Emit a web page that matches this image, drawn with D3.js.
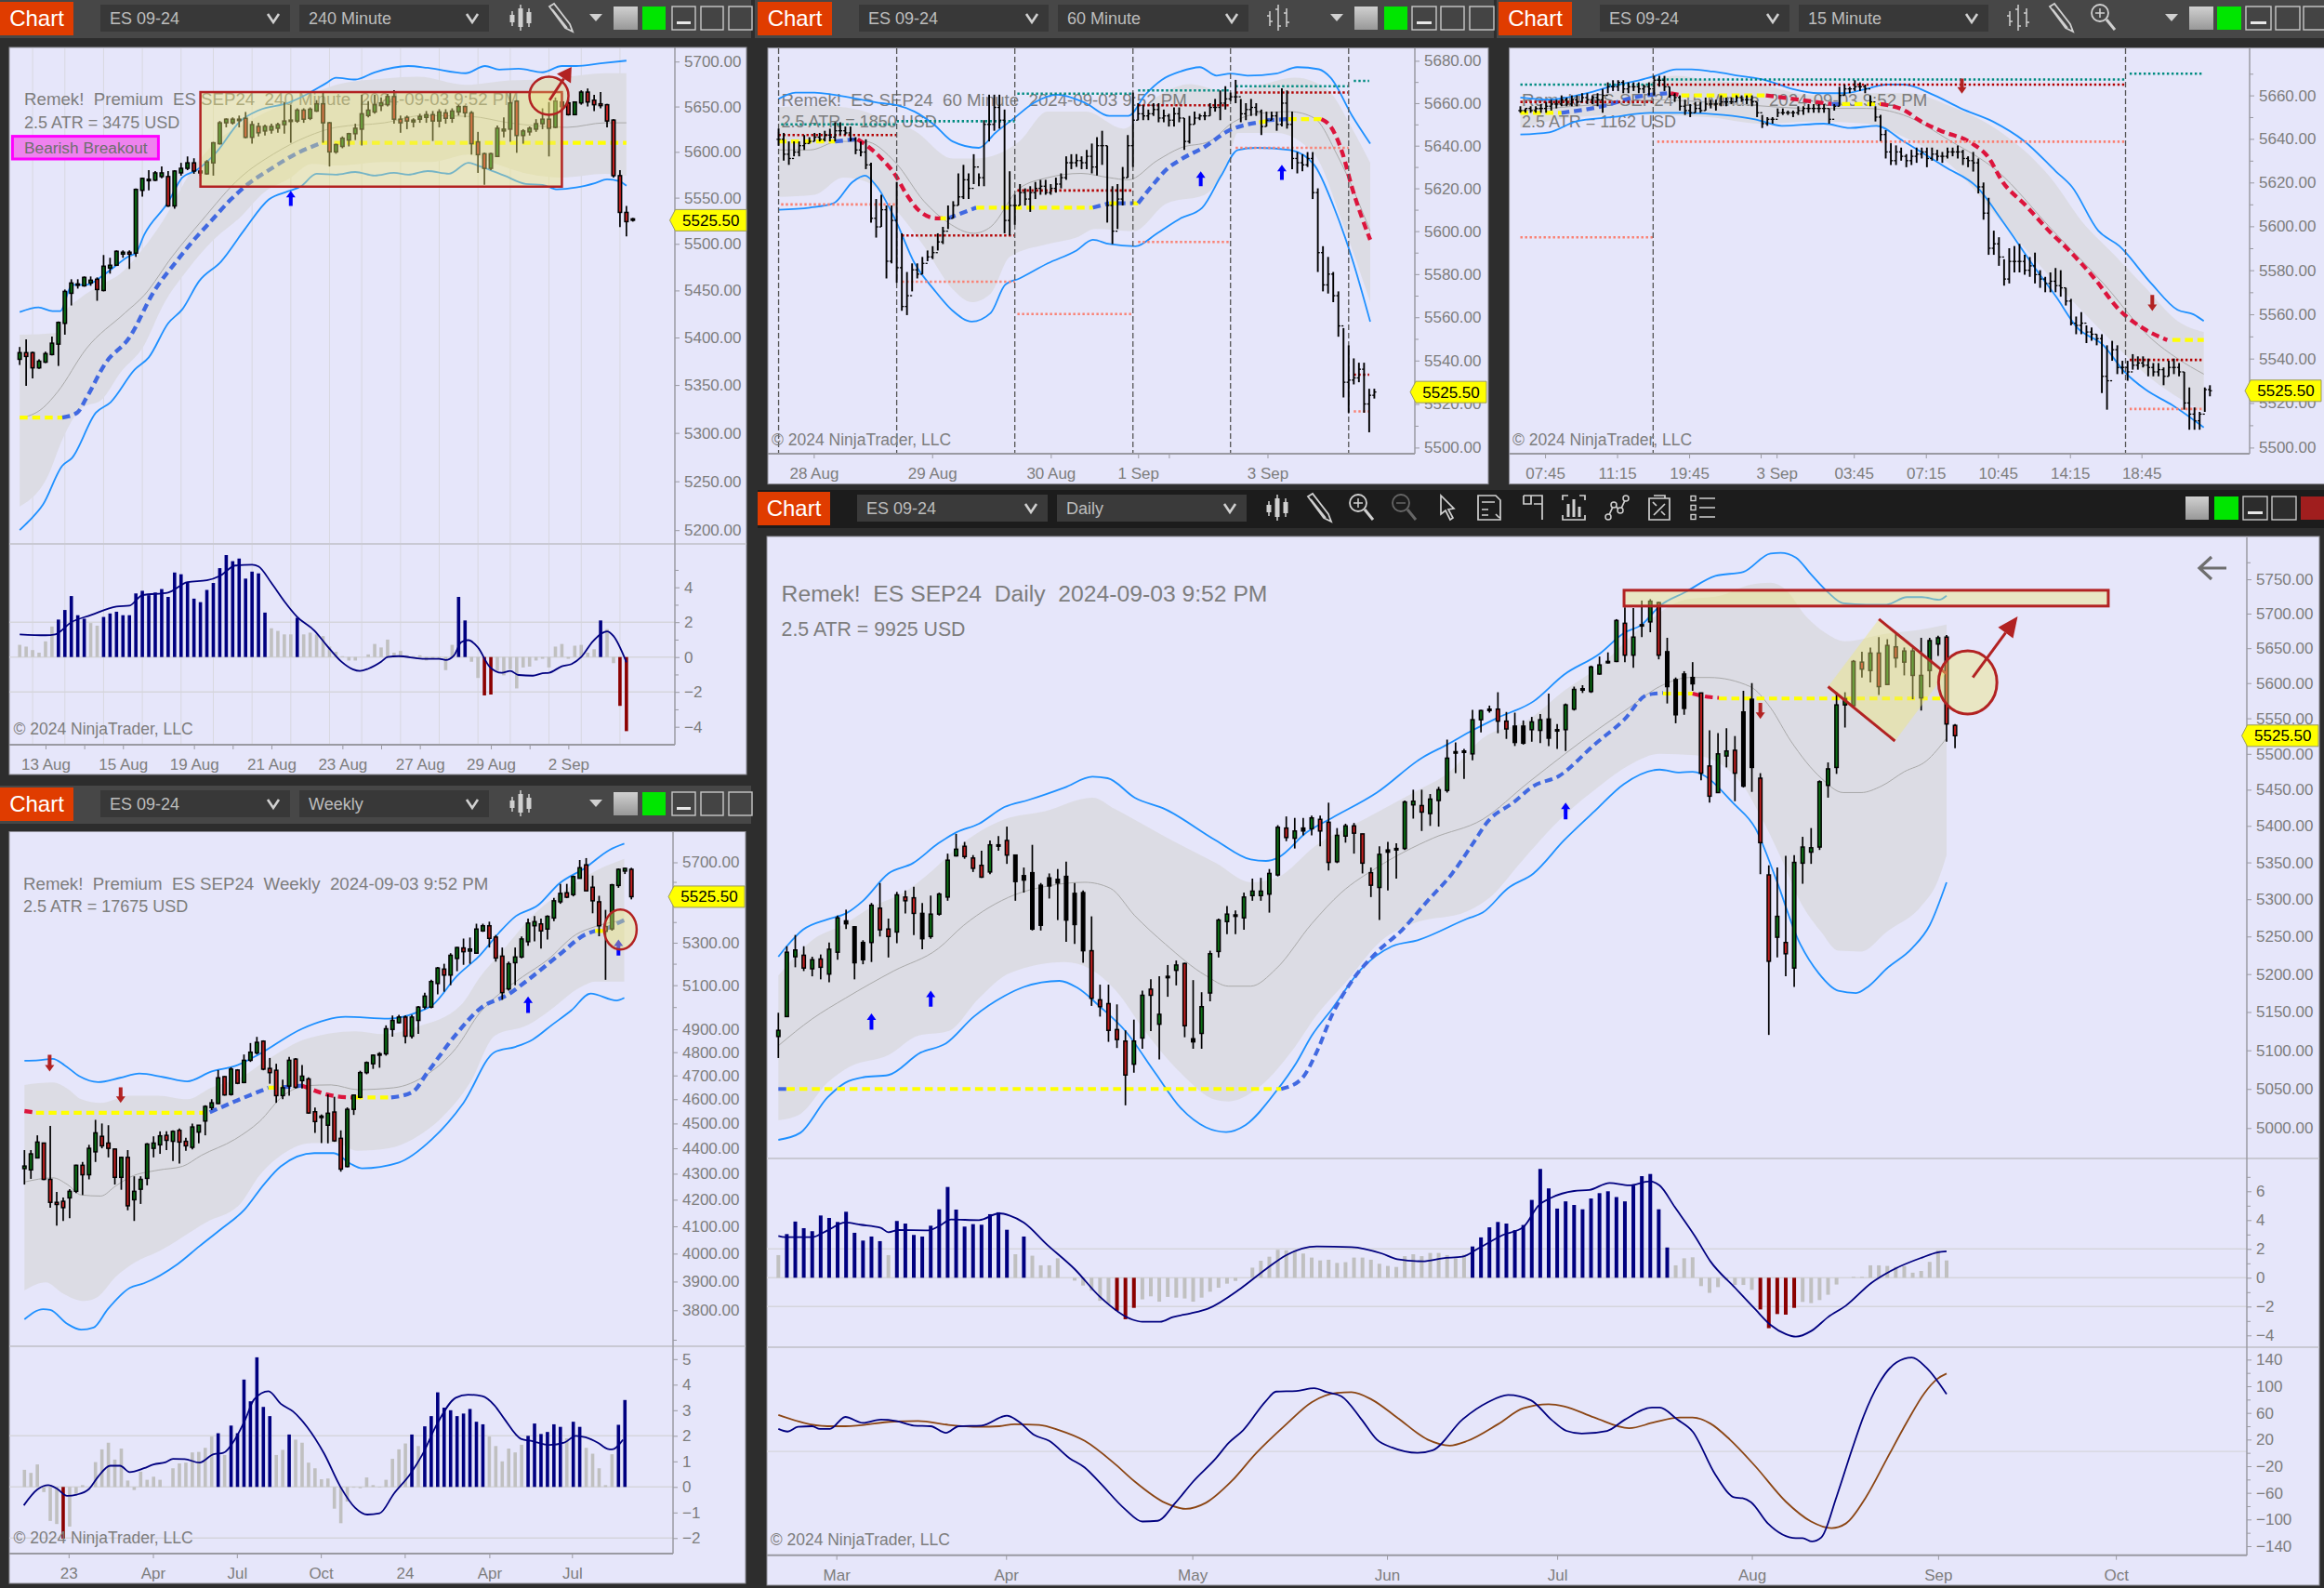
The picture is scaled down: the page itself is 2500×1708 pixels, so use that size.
<!DOCTYPE html>
<html><head><meta charset="utf-8"><title>Remek ES SEP24</title>
<script src="https://cdn.jsdelivr.net/npm/d3@7"></script>
<style>html,body{margin:0;padding:0;background:#2d2d2d;overflow:hidden}svg{display:block}text{font-family:"Liberation Sans",Arial,sans-serif;white-space:pre}</style>
</head><body><svg id="c" width="2500" height="1708"></svg>
<script>
// ---------- 240 minute panel ----------
const p1Candles=[[5377,5390,5371,5384],[5384,5398,5349,5380],[5384,5385,5357,5368],[5368,5377,5367,5375],[5374,5385,5373,5383],[5382,5401,5381,5394],[5393,5417,5370,5416],[5415,5451,5403,5449],[5447,5462,5434,5458],[5457,5462,5452,5456],[5455,5465,5454,5464],[5458,5465,5455,5461],[5462,5464,5439,5451],[5450,5488,5449,5476],[5474,5485,5468,5477],[5477,5493,5477,5492],[5489,5493,5485,5491],[5491,5493,5473,5489],[5490,5560,5486,5559],[5558,5572,5551,5571],[5569,5580,5558,5570],[5569,5579,5568,5577],[5573,5584,5571,5577],[5573,5579,5540,5541],[5541,5580,5538,5579],[5577,5588,5574,5582],[5582,5595,5580,5588],[5588,5593,5576,5579],[5579,5580,5574,5577],[5576,5591,5575,5589],[5588,5611,5574,5610],[5609,5634,5608,5632],[5632,5637,5627,5636],[5632,5638,5630,5636],[5636,5640,5627,5636],[5637,5644,5615,5616],[5616,5634,5609,5630],[5628,5632,5617,5621],[5623,5630,5618,5628],[5624,5631,5620,5628],[5626,5632,5621,5630],[5630,5655,5620,5634],[5635,5652,5610,5634],[5634,5648,5632,5646],[5646,5648,5632,5636],[5637,5649,5635,5647],[5645,5657,5644,5653],[5653,5665,5610,5632],[5632,5633,5584,5600],[5600,5609,5598,5608],[5606,5617,5604,5615],[5613,5621,5606,5620],[5620,5631,5613,5626],[5625,5663,5607,5642],[5640,5656,5638,5646],[5644,5663,5642,5652],[5651,5660,5645,5654],[5652,5664,5650,5661],[5661,5668,5631,5636],[5636,5640,5621,5632],[5638,5640,5625,5634],[5633,5637,5627,5635],[5636,5642,5632,5639],[5638,5645,5632,5641],[5641,5645,5612,5634],[5634,5647,5627,5644],[5643,5647,5631,5637],[5637,5648,5632,5645],[5644,5652,5640,5650],[5650,5651,5638,5643],[5643,5645,5597,5609],[5611,5622,5577,5597],[5598,5599,5564,5582],[5582,5599,5580,5598],[5595,5629,5595,5626],[5623,5638,5616,5625],[5625,5665,5611,5654],[5656,5657,5599,5618],[5618,5625,5609,5623],[5622,5628,5618,5626],[5625,5636,5622,5631],[5631,5648,5625,5636],[5636,5655,5595,5626],[5627,5660,5626,5656],[5650,5665,5645,5655],[5654,5658,5640,5641],[5641,5655,5641,5655],[5654,5668,5652,5666],[5666,5670,5650,5655],[5657,5663,5645,5652],[5653,5666,5648,5651],[5652,5653,5627,5634],[5635,5636,5572,5574],[5574,5580,5518,5534],[5534,5541,5508,5524],[5527,5528,5524,5525.5]];
const p1Upper=[[0,5427],[2.9,5432],[5.1,5428],[6.3,5428],[8.1,5456],[10.3,5456],[12.9,5466],[14.8,5476],[17,5487],[18,5490],[19.3,5510],[23,5545],[25.2,5572],[27.4,5580],[30.4,5599],[34.2,5634],[37.1,5646],[41.6,5654],[44.6,5664],[47.5,5676],[49,5682],[52,5680],[55,5688],[60.2,5695],[63.2,5693],[69.1,5687],[72.1,5695],[74.3,5691],[77.3,5692],[81,5688],[84,5695],[86.2,5695],[90,5698],[94,5701]];
const p1Lower=[[0,5200],[1.4,5209],[3.6,5226],[6.6,5266],[8.1,5274],[11.8,5321],[14.1,5332],[17.8,5366],[20,5379],[23,5415],[25.2,5430],[27.8,5460],[31.2,5481],[34.9,5516],[38.6,5548],[41.6,5557],[43.5,5562],[46,5576],[49,5575],[52,5578],[55,5574],[58,5577],[60.2,5575],[63.2,5579],[66.5,5576],[69.5,5588],[71.4,5584],[75.1,5574],[78.4,5565],[81,5564],[83.3,5559],[86.2,5561],[89.2,5566],[91,5570],[92.9,5568],[94,5563]];
const p1GrayUp=[[0,5403],[5.9,5405],[7,5426],[9.2,5441],[12.6,5456],[15.6,5468],[18.2,5487],[22.2,5525],[26.7,5580],[30.4,5611],[35.6,5634],[40.1,5650],[44.6,5662],[49,5674],[56.5,5681],[61.7,5683],[69.1,5674],[75.8,5679],[81,5680],[84.8,5683],[90.7,5687],[94,5687]];
const p1GrayLo=[[0,5224],[4.4,5256],[6.6,5293],[9.6,5326],[12.6,5334],[15.6,5363],[19.3,5392],[22.2,5434],[26,5472],[29.7,5502],[34.2,5529],[37.9,5556],[41.6,5570],[45.3,5587],[49,5585],[56.5,5589],[63.9,5589],[69.5,5597],[72.1,5591],[78.8,5576],[84,5572],[90.7,5576],[94,5574]];
const p1Sma=[[0,5315],[3.6,5326],[5.9,5343],[10.3,5388],[16.3,5426],[19.3,5445],[23.7,5487],[28.2,5525],[34.2,5572],[39.4,5598],[44.6,5617],[49,5627],[56.5,5632],[62.4,5640],[69.9,5639],[75.8,5632],[84.8,5627],[90.7,5632],[94,5632]];
const p1Stops=[["y",[[0,5316],[6.6,5316]]],["b",[[6.6,5316],[8.9,5321],[10.3,5336],[13.3,5373],[17,5400],[20.8,5449],[24.5,5483],[26.7,5502],[29.7,5525],[32.7,5548],[35.6,5566],[38.6,5580],[43.1,5599],[46.8,5610]]],["y",[[46.8,5610],[94,5610]]]];
const p1Hist=[.7,.6,.4,.25,.9,1.75,2.15,2.7,3.5,2.4,2.2,1.95,1.8,2.3,2.5,2.6,2.4,2.4,3.65,3.8,3.55,3.7,3.9,3.45,4.85,4.75,4.3,3.35,3.15,3.85,4.25,5.1,5.85,5.5,5.65,4.5,4.9,4.8,2.55,1.65,1.5,1.3,1.3,2.25,1.3,1.4,1.3,1.2,.6,.3,.05,-.2,-.2,0,.15,.75,.55,1,.25,.35,.1,.05,.1,-.2,-.1,-.1,-.75,.7,3.45,2.1,-.27,-1.2,-2.2,-2.15,-.8,-1.05,-.7,-1.8,-.6,-.55,-.2,-.1,-.6,.6,.75,-.1,.65,.7,.25,.45,2.1,1.6,-.35,-2.8,-4.25];
const p1Signal=[[0,1.3],[4,1.25],[5.5,1.3],[8,2],[11,2.4],[15,2.9],[17,2.95],[19,3.55],[23,3.7],[26,4.3],[29,4.4],[31,4.65],[33.4,5.25],[36,5.3],[37,5.2],[39,4.25],[41,3.2],[43,2.3],[45.7,1.5],[47.5,.7],[49.8,-.25],[51.6,-.7],[52.7,-.8],[54,-.67],[56,-.27],[57,0],[58.7,.05],[62.4,-.1],[65,-.1],[66,-.17],[67.3,.1],[68.4,.85],[69.5,.97],[71,.55],[72.8,-.55],[74.7,-.9],[76,-.8],[77.3,-1.03],[79.5,-1.07],[81,-.93],[82,-.9],[84,-.53],[85.5,-.4],[87,0],[88.8,.9],[91,1.47],[92,1.2],[94,-.3]];
const p1PriceTicks=[5700,5650,5600,5550,5500,5450,5400,5350,5300,5250,5200];
const p1IndTicks=[4,2,0,-2,-4];
const p1IndMinor=[5,3,1,-1,-3];
const p1TimeIdx=[4,10,16,27,33,39,50,56,62,73,79,85];
const p1TimeLabels=["13 Aug","","15 Aug","19 Aug","","21 Aug","23 Aug","","27 Aug","29 Aug","","2 Sep"];
const p1GridIdx=[2,7,13,19,25,30,36,42,48,53,59,65,71,76,82,87,93];

// ---------- 60 minute panel ----------
const p2Highs=[5648,5646,5642,5642,5642,5645,5644,5646,5646,5647,5648,5651,5651,5649,5649,5644,5642,5643,5632,5615,5617,5612,5612,5623,5599,5581,5585,5585,5588,5591,5593,5599,5602,5612,5614,5627,5631,5627,5636,5627,5652,5664,5664,5664,5657,5628,5617,5622,5620,5621,5623,5624,5624,5622,5625,5627,5635,5636,5636,5635,5638,5641,5644,5647,5640,5621,5622,5630,5645,5665,5660,5659,5657,5660,5660,5657,5655,5658,5658,5653,5654,5656,5655,5656,5660,5662,5666,5668,5665,5671,5662,5660,5662,5660,5657,5656,5656,5656,5667,5666,5656,5637,5636,5637,5637,5620,5593,5588,5581,5572,5555,5547,5541,5539,5539,5527,5527];
const p2Lows=[5640,5633,5631,5635,5635,5638,5641,5642,5642,5642,5642,5642,5645,5645,5642,5636,5635,5629,5604,5597,5602,5578,5585,5576,5563,5561,5572,5578,5580,5586,5587,5591,5594,5601,5606,5612,5615,5615,5622,5621,5621,5642,5647,5648,5599,5598,5603,5612,5612,5609,5615,5617,5617,5617,5618,5620,5624,5629,5630,5629,5629,5627,5626,5631,5604,5594,5601,5612,5625,5630,5652,5652,5652,5654,5651,5651,5649,5649,5651,5638,5641,5650,5652,5652,5654,5656,5652,5657,5661,5660,5651,5652,5654,5654,5645,5649,5652,5647,5649,5648,5629,5627,5628,5630,5615,5581,5572,5571,5567,5551,5523,5516,5529,5530,5516,5507,5522.5];
const p2Closes=[5643,5636,5634,5637,5640,5641,5642,5644,5643,5645,5644,5647,5647,5646,5643,5638,5637,5631,5606,5602,5610,5586,5605,5583,5565,5570,5582,5580,5585,5588,5590,5595,5600,5606,5612,5616,5624,5620,5630,5625,5650,5650,5658,5652,5605,5612,5612,5618,5615,5618,5620,5621,5618,5620,5622,5625,5632,5632,5633,5632,5635,5630,5640,5640,5612,5600,5615,5625,5640,5652,5655,5654,5655,5657,5653,5654,5652,5655,5653,5642,5650,5653,5654,5654,5658,5658,5660,5662,5663,5663,5655,5657,5658,5656,5649,5652,5654,5650,5660,5650,5634,5632,5631,5634,5618,5590,5575,5580,5570,5556,5530,5531,5532,5536,5520,5524,5525.5];
const p2Upper=[[0,5662],[3.3,5665],[7,5665],[10.7,5664],[15.4,5662],[20,5660],[23,5659],[26.5,5656],[30.2,5650],[33.9,5642],[39,5639],[42.2,5646],[45.9,5653],[49.6,5660],[54.3,5664],[59.8,5660],[64.4,5654],[68.1,5654],[71.4,5664],[74.6,5671],[78.3,5675],[82,5677],[85.3,5673],[88,5674],[91.3,5673],[96.9,5674],[101,5677],[105.2,5676],[107.5,5672],[111.7,5654],[115.2,5641]];
const p2Lower=[[0,5610],[6.1,5611],[10.7,5613],[14.4,5623],[16.8,5626],[19.1,5621],[22.8,5605],[26.5,5585],[30.2,5573],[33.9,5563],[37.6,5558],[41.3,5562],[44.1,5575],[46.9,5578],[52.4,5585],[58,5591],[61.2,5596],[64.4,5594],[69.5,5593],[73.7,5599],[78.3,5606],[82.5,5611],[86.2,5626],[89.4,5638],[93.1,5639],[99.6,5638],[104.3,5631],[108,5612],[111.7,5587],[115.2,5558]];
const p2GrayUp=[[0,5658],[7,5659],[15.4,5657],[20,5653],[26.5,5647],[33.9,5634],[38.5,5634],[46.9,5642],[52.4,5656],[59.8,5656],[67.2,5648],[73.7,5663],[80.2,5669],[87.6,5665],[93.1,5668],[100.6,5672],[107,5666],[111.7,5648],[115.2,5632]];
const p2GrayLo=[[0,5616],[7,5617],[12.6,5625],[17.2,5623],[22.8,5610],[28.3,5593],[33.9,5573],[37.6,5567],[41.3,5571],[45,5588],[52.4,5594],[58,5597],[61.7,5601],[69.1,5600],[75.6,5613],[83,5617],[87.6,5634],[89.4,5646],[96.9,5646],[104.3,5636],[109.8,5604],[115.2,5567]];
const p2Sma=[[0,5638],[6.1,5638],[11.7,5642],[16.8,5642],[22.8,5632],[28.3,5614],[33,5604],[38,5599],[41.3,5602],[46.9,5620],[52.4,5625],[58.9,5627],[64.4,5625],[68.1,5624],[73.7,5633],[78.3,5639],[83.9,5642],[88.5,5651],[93.1,5655],[99.6,5656],[104.3,5653],[108.9,5635],[115.2,5600]];
const p2Stops=[["y",[[0,5642],[11,5642]]],["b",[[11,5642],[15,5643]]],["r",[[15.4,5643],[17.2,5640],[20,5634],[22.8,5626],[24.7,5618],[27.4,5609.5],[30.7,5606],[32,5606]]],["y",[[31.5,5606],[32.6,5606]]],["b",[[33,5606],[38.5,5611]]],["y",[[38.5,5611],[61.2,5611]]],["b",[[61.2,5611],[64.4,5613]]],["y",[[64.4,5613],[66,5613]]],["b",[[66,5613],[69,5613]]],["y",[[69,5613],[70,5613]]],["b",[[70,5613],[73,5622],[75.6,5629],[78.3,5633.5],[83,5639.5],[87.6,5647],[93.6,5651]]],["y",[[93.6,5651],[95,5651.5]]],["b",[[95,5652],[99,5652.5]]],["y",[[99.3,5652.5],[105.7,5652.5]]],["r",[[105.7,5652.5],[107.5,5649],[109.8,5636.5],[111.7,5620],[115.2,5596]]]];
const p2Teal=[[.5,23,5650],[23,46,5651.5],[46.5,69,5664.5],[70,88,5666],[89,111,5668],[112,115,5670.5]];
const p2DarkRed=[[0,23,5645],[24,46,5598],[46.5,69,5619],[70,88,5659],[89,111,5665],[112,115,5533.5]];
const p2Salmon=[[.5,23,5612.5],[24,46,5576.5],[46.5,69,5561.5],[70,88,5595],[89,111,5639],[112,115,5516.6]];
const p2Sessions=[0,23,46,69,88,111];
const p2PriceTicks=[5680,5660,5640,5620,5600,5580,5560,5540,5520,5500];
const p2TimeIdx=[6.85,29.9,53,70,76,95.2];
const p2TimeLabels=["28 Aug","29 Aug","30 Aug","1 Sep","","3 Sep"];

// ---------- 15 minute panel ----------
const p3Highs=[5655,5654,5655,5655,5656,5657,5658,5658,5660,5659,5660,5660,5661,5661,5660,5661,5663,5666,5667,5667,5667,5666,5666,5666,5665,5666,5669,5669,5669,5664,5661,5660,5658,5656,5657,5657,5659,5658,5658,5660,5659,5659,5660,5660,5660,5660,5657,5651,5650,5650,5654,5654,5653,5653,5655,5655,5656,5656,5656,5656,5654,5656,5664,5665,5664,5667,5666,5665,5660,5655,5651,5644,5638,5637,5636,5633,5635,5636,5636,5636,5636,5635,5634,5636,5636,5637,5635,5632,5634,5631,5620,5613,5598,5595,5585,5590,5591,5592,5587,5586,5588,5580,5577,5579,5581,5580,5572,5567,5559,5561,5555,5554,5551,5551,5546,5548,5546,5539,5539,5542,5541,5541,5540,5538,5538,5536,5539,5540,5538,5534,5527,5518,5516,5527,5528];
const p3Lows=[5652,5652,5652,5652,5652,5652,5653,5654,5655,5655,5655,5655,5657,5656,5656,5655,5652,5661,5662,5662,5661,5661,5662,5661,5661,5660,5660,5664,5662,5659,5657,5653,5651,5650,5652,5652,5653,5654,5653,5655,5655,5656,5657,5657,5656,5655,5650,5645,5646,5647,5650,5651,5651,5650,5651,5651,5652,5652,5652,5652,5647,5653,5655,5660,5661,5662,5662,5661,5655,5648,5639,5631,5628,5628,5630,5627,5628,5629,5631,5627,5630,5630,5629,5631,5632,5631,5628,5627,5625,5615,5603,5587,5587,5582,5573,5574,5579,5579,5578,5577,5574,5572,5570,5570,5570,5568,5564,5555,5551,5551,5547,5548,5546,5524.5,5517,5539,5533,5533,5530,5535,5535,5536,5532,5532,5532,5528,5532,5533,5532,5517,5508,5508,5508,5516,5523];
const p3Closes=[5653,5654,5653,5654,5654,5655,5656,5656,5658,5656,5658,5657,5659,5658,5659,5658,5660,5664,5664,5666,5663,5664,5664,5663,5664,5663,5667,5667,5664,5660,5659,5655,5653,5652,5654,5653,5656,5656,5656,5657,5657,5657,5659,5658,5658,5657,5652,5647,5649,5649,5652,5652,5652,5652,5653,5654,5654,5654,5654,5654,5649,5655,5660,5663,5663,5664,5664,5663,5657,5650,5642,5634,5630,5634,5632,5630,5632,5633,5634,5631,5633,5632,5632,5634,5634,5634,5631,5630,5629,5618,5606,5590,5592,5586,5576,5584,5584,5584,5580,5582,5578,5576,5574,5575,5573,5572,5566,5556,5555,5556,5552,5551,5549,5532,5530,5544,5536,5536,5534,5537,5538,5537,5536,5534,5535,5532,5536,5536,5534,5520,5515,5512,5515,5526,5525.5];
const p3Upper=[[0,5659],[5.6,5658],[12.8,5661],[19,5665],[23.1,5667],[26.2,5669],[30.3,5672],[33.3,5672],[37.4,5671],[42.6,5669],[47.7,5667],[52.8,5663],[57.9,5661],[63.1,5661],[67.2,5663],[71.3,5665],[74.4,5665],[80.5,5660],[85.6,5654],[91.8,5648],[97.9,5639],[104.1,5625],[107.2,5618],[112.3,5598],[116.4,5591],[122.6,5574],[127.7,5562],[130.8,5560],[132.8,5557]];
const p3Lower=[[0,5642],[5.6,5643],[10.8,5648],[17.9,5650],[25.1,5652],[31.3,5652],[39.5,5651],[45.6,5649],[50.8,5646],[59,5647],[64.1,5645],[69.2,5646],[74.4,5639],[82.6,5627],[88.7,5618],[93.8,5602],[100,5581],[104.1,5568],[108.2,5554],[113.3,5546],[117.4,5534],[121.5,5526],[126.7,5519],[132.8,5509]];
const p3GrayUp=[[0,5656],[10.8,5658],[19,5662],[30.3,5669],[36.4,5667],[46.7,5665],[56.9,5660],[67.2,5661],[75.4,5661],[83.6,5655],[92.8,5644],[103.1,5622],[109.2,5602],[115.4,5587],[121.5,5572],[127.7,5557],[132.8,5552]];
const p3GrayLo=[[0,5645],[10.8,5650],[22,5651],[36.4,5650],[46.7,5647],[56.9,5648],[67.2,5647],[74.4,5641],[83.6,5628],[92.8,5604],[104.1,5574],[114.4,5549],[121.5,5533],[132.8,5516]];
const p3Sma=[[0,5653],[15.9,5656],[26.2,5658],[41.5,5656],[56.9,5654],[67.2,5654],[74.4,5651],[83.6,5639],[92.8,5625],[103.1,5599],[113.3,5574],[122.6,5549],[127.7,5540],[132.8,5533]];
const p3Stops=[["y",[[0,5652],[8,5652]]],["b",[[8,5652],[16,5655],[22,5659],[28.5,5661]]],["r",[[29.2,5661],[31.3,5660]]],["y",[[31.3,5660],[47.7,5660]]],["r",[[47.7,5660],[60.5,5656]]],["b",[[60.5,5656],[62.5,5656]]],["y",[[62.5,5656],[70,5656]]],["r",[[70,5656],[75.1,5652.5],[77.2,5649],[81.4,5644],[87.7,5638],[90.8,5632],[93.8,5620],[98,5610],[103.1,5597],[106.2,5590],[111.3,5577],[116.4,5562],[121.5,5553],[125.7,5548.4]]],["y",[[126.7,5548.4],[132.8,5548.4]]]];
const p3Teal=[[0,25.8,5665],[26.6,117.6,5667.3],[118.4,132.8,5670]];
const p3DarkRed=[[0,25.8,5657],[26.6,117.6,5665],[118.4,132.8,5539.4]];
const p3Salmon=[[0,25.8,5595],[26.6,117.6,5638.7],[118.4,132.8,5517.3]];
const p3Sessions=[25.8,117.6];
const p3PriceTicks=[5660,5640,5620,5600,5580,5560,5540,5520,5500];
const p3TimeIdx=[4.8,18.8,32.8,46.7,49.8,64.8,78.8,92.8,106.8,120.7];
const p3TimeLabels=["07:45","11:15","19:45","","3 Sep","03:45","07:15","10:45","14:15","18:45"];

// ---------- weekly panel ----------
const p4Candles=[[4320,4393,4258,4330],[4315,4393,4280,4378],[4362,4452,4360,4425],[4421,4421,4275,4278],[4278,4490,4170,4190],[4190,4230,4103,4182],[4194,4208,4120,4170],[4207,4240,4130,4232],[4232,4335,4225,4333],[4333,4346,4218,4296],[4296,4414,4278,4400],[4386,4515,4346,4462],[4448,4500,4400,4410],[4421,4493,4364,4400],[4397,4400,4258,4286],[4286,4367,4238,4364],[4364,4393,4160,4177],[4200,4290,4120,4232],[4240,4290,4184,4278],[4282,4421,4255,4417],[4400,4448,4364,4421],[4414,4468,4378,4450],[4452,4468,4393,4432],[4428,4472,4350,4468],[4472,4480,4340,4425],[4428,4442,4390,4410],[4404,4500,4396,4486],[4465,4493,4420,4493],[4510,4575,4452,4570],[4565,4600,4555,4585],[4582,4723,4580,4690],[4695,4697,4615,4618],[4620,4735,4615,4727],[4723,4727,4663,4667],[4670,4790,4667,4765],[4765,4840,4758,4800],[4797,4867,4790,4843],[4848,4852,4722,4727],[4730,4775,4665,4712],[4722,4750,4585,4615],[4615,4682,4600,4648],[4655,4780,4615,4765],[4770,4775,4645,4650],[4678,4745,4645,4697],[4685,4692,4540,4543],[4548,4565,4462,4508],[4530,4537,4421,4525],[4493,4620,4420,4542],[4547,4610,4426,4430],[4440,4472,4308,4318],[4328,4566,4325,4558],[4558,4618,4535,4617],[4608,4720,4604,4712],[4712,4760,4705,4755],[4750,4790,4728,4787],[4792,4800,4733,4793],[4793,4918,4785,4903],[4900,4962,4868,4940],[4930,4965,4926,4955],[4955,4962,4838,4870],[4870,4965,4860,4955],[4940,5005,4880,5000],[5000,5065,4990,5050],[5000,5125,4995,5117],[5108,5185,5058,5180],[5175,5200,5070,5147],[5147,5250,5100,5240],[5225,5280,5165,5277],[5275,5320,5195,5257],[5260,5325,5200,5270],[5250,5392,5250,5366],[5357,5392,5352,5382],[5382,5402,5277,5321],[5327,5337,5210,5227],[5236,5277,5033,5066],[5083,5210,5075,5200],[5205,5277,5100,5232],[5232,5330,5226,5318],[5305,5417,5285,5395],[5382,5430,5306,5402],[5391,5417,5272,5357],[5366,5433,5315,5428],[5420,5520,5405,5505],[5500,5590,5490,5542],[5545,5590,5518,5523],[5536,5632,5527,5627],[5618,5712,5618,5672],[5687,5722,5555,5555],[5573,5632,5443,5505],[5500,5530,5331,5382],[5378,5460,5125,5355],[5367,5590,5358,5585],[5582,5669,5570,5664],[5655,5672,5640,5669],[5664,5672,5512,5525.5]];
const p4Upper=[[0,4763],[2.2,4765],[4.4,4771],[6.2,4744],[8.5,4697],[11.4,4672],[14.8,4690],[17.8,4708],[21.5,4693],[25.2,4675],[28.9,4716],[33,4744],[36.4,4792],[43,4903],[49.7,4956],[56.4,4948],[60.9,4977],[63.2,5009],[66.9,5140],[70.6,5242],[73.5,5348],[76.1,5429],[79.5,5482],[82.8,5591],[86.9,5673],[90.6,5764],[92.9,5797]];
const p4Lower=[[0,3769],[2.9,3804],[4,3801],[6.6,3754],[8.8,3734],[10.7,3741],[12.9,3804],[16.3,3878],[18.5,3894],[23.7,3962],[27.1,4027],[30.4,4089],[34.1,4163],[37.1,4259],[39.7,4329],[44.9,4381],[47.9,4381],[50.5,4339],[52.3,4321],[57.9,4343],[63.1,4436],[68,4585],[72.8,4800],[76.1,4824],[78.7,4855],[81.7,4920],[84.7,4985],[87.7,5062],[91.7,5030],[92.9,5042]];
const p4GrayUp=[[0,4660],[4.4,4670],[6.6,4645],[8.8,4600],[11.8,4585],[16.3,4615],[20.7,4615],[25.2,4600],[28.9,4648],[33.4,4690],[37.8,4771],[43.8,4860],[51.2,4892],[55.7,4879],[60.9,4912],[67.6,5009],[70.6,5140],[73.5,5242],[79.5,5456],[83.2,5546],[88.4,5655],[92.9,5718]];
const p4GrayLo=[[0,3869],[3.3,3897],[5.9,3859],[9.2,3832],[11.4,3847],[14.1,3916],[17,3967],[20.7,4007],[28.2,4116],[33.4,4184],[36.4,4293],[40.1,4379],[44.5,4421],[48.3,4421],[51.6,4390],[56.4,4400],[60.1,4436],[64.6,4523],[69.1,4673],[72.8,4871],[78,4920],[81,4977],[86.2,5092],[88.4,5117],[92.9,5117]];
const p4Sma=[[0,4268],[4.4,4284],[6.6,4259],[8.8,4218],[11.8,4214],[14.1,4252],[16.3,4286],[20.7,4314],[24.5,4329],[27.4,4372],[32.6,4436],[36.4,4508],[40.1,4615],[43.8,4657],[47.5,4660],[51.6,4640],[57.2,4648],[62.4,4705],[66.8,4816],[70.6,4977],[73.5,5059],[77.2,5140],[81,5218],[85.4,5339],[88.4,5378],[92.9,5410]];
const p4Stops=[["r",[[0,4551],[1.8,4544]]],["y",[[1.8,4544],[28.7,4544]]],["b",[[28.7,4546],[33.4,4600],[37.8,4648]]],["y",[[37.8,4648],[40,4648]]],["b",[[40,4650],[43,4657]]],["r",[[43,4657],[48.3,4612],[51.2,4607]]],["y",[[51.2,4607],[56.8,4607]]],["b",[[56.8,4607],[60.1,4630],[62.4,4712],[66.9,4880],[70.6,4994],[75,5059],[78,5125],[82.8,5242],[86.9,5340],[88.4,5357]]],["y",[[88.4,5357],[89.8,5357]]],["b",[[90,5366],[92.9,5410]]]];
const p4Hist=[.67,.55,.88,-.2,-1.33,-1.45,-2.02,-1.55,-.27,.07,0,.97,1.47,1.73,1.07,1.5,.25,-.12,.6,.28,.4,.28,0,.73,.92,.95,1.35,1.37,1.53,1.97,2.1,1.25,2.4,2.1,4.2,3.35,5.07,3.13,2.77,1.25,1.45,2.05,1.85,1.73,.95,.73,.3,.33,-.85,-1.42,-.57,-.03,-.05,.37,.07,-.02,.28,1.1,1.47,1.7,2.05,1.6,2.37,2.77,3.7,3.1,3,2.77,2.87,3.05,2.55,2.45,1.97,1.6,1,1.5,1.35,1.65,2,2.48,2.07,2.15,2.45,2.35,1.9,2.55,2.35,1.53,1.3,.73,.07,1.28,2.43,3.4];
const p4Signal=[[-.1,-.72],[2,-.1],[3.7,.07],[5.1,-.08],[6.6,-.35],[8.1,-.3],[10,-.08],[11.4,.4],[13.3,.83],[14.8,.83],[16.3,.58],[18.5,.73],[20,.88],[21.9,.97],[23,1.1],[24.8,1.09],[27.1,.95],[29.3,1.28],[30.8,1.33],[32.6,1.86],[34.1,2.58],[35.6,3.43],[37.8,3.74],[39.7,3.25],[41.6,2.95],[43.8,2.34],[46.4,1.31],[49,-.02],[51.2,-.81],[53.1,-1.08],[55,-1.03],[57.2,-.27],[59.8,.52],[61.6,1.25],[63.9,2.46],[66.8,3.49],[68.7,3.61],[70.9,3.55],[72.8,3.19],[74.3,2.67],[76.9,1.88],[78.7,1.79],[81.3,1.64],[83.6,1.73],[85.4,2],[86.9,1.94],[88.8,1.73],[90.3,1.49],[91,1.47],[92.7,1.85]];
const p4PriceTicks=[5700,5500,5300,5100,4900,4800,4700,4600,4500,4400,4300,4200,4100,4000,3900,3800];
const p4IndTicks=[5,4,3,2,1,0,-1,-2];
const p4TimeIdx=[6.84,19.9,32.9,45.9,58.9,72,84.8];
const p4TimeLabels=["23","Apr","Jul","Oct","24","Apr","Jul"];

// ---------- daily panel ----------
const p5Candles=[[5118,5149,5090,5126],[5144,5237,5144,5229],[5223,5252,5209,5232],[5225,5237,5204,5208],[5207,5223,5197,5219],[5220,5226,5193,5209],[5200,5242,5189,5233],[5229,5278,5219,5275],[5271,5286,5260,5267],[5263,5264,5193,5215],[5219,5245,5213,5242],[5242,5295,5216,5292],[5288,5322,5250,5259],[5260,5274,5222,5250],[5256,5310,5241,5306],[5303,5312,5281,5298],[5302,5317,5252,5281],[5281,5295,5233,5247],[5250,5305,5247,5280],[5280,5309,5278,5307],[5303,5362,5298,5353],[5359,5389,5358,5368],[5372,5378,5355,5358],[5356,5360,5337,5342],[5346,5366,5329,5330],[5337,5380,5334,5374],[5373,5386,5366,5374],[5380,5399,5348,5360],[5360,5360,5298,5324],[5332,5343,5309,5326],[5336,5374,5258,5260],[5319,5322,5258,5265],[5329,5335,5301,5318],[5327,5341,5272,5322],[5331,5351,5243,5272],[5308,5322,5240,5266],[5309,5312,5215,5231],[5231,5277,5158,5168],[5166,5186,5144,5157],[5161,5186,5111,5126],[5127,5160,5103,5114],[5112,5126,5029,5068],[5082,5140,5071,5112],[5116,5178,5102,5172],[5180,5193,5125,5172],[5134,5197,5088,5147],[5197,5212,5170,5196],[5205,5218,5185,5212],[5214,5215,5117,5132],[5115,5192,5102,5111],[5122,5176,5102,5157],[5175,5231,5164,5227],[5230,5274,5222,5272],[5270,5291,5253,5280],[5277,5285,5253,5279],[5275,5309,5259,5303],[5305,5328,5298,5311],[5305,5329,5298,5311],[5307,5341,5282,5335],[5333,5401,5331,5398],[5397,5413,5379,5384],[5383,5411,5369,5393],[5393,5411,5387,5397],[5396,5414,5387,5411],[5409,5414,5372,5393],[5405,5432,5339,5350],[5351,5397,5349,5387],[5386,5403,5377,5400],[5400,5404,5362,5390],[5389,5389,5335,5349],[5336,5343,5303,5319],[5316,5372,5272,5361],[5364,5378,5312,5367],[5367,5376,5328,5369],[5369,5435,5367,5433],[5429,5450,5410,5434],[5428,5450,5393,5419],[5417,5444,5400,5437],[5435,5454,5399,5450],[5449,5520,5446,5494],[5501,5516,5473,5503],[5502,5507,5465,5504],[5500,5562,5491,5548],[5548,5562,5530,5561],[5562,5568,5558,5563],[5563,5587,5529,5546],[5546,5559,5521,5535],[5539,5558,5511,5516],[5539,5547,5513,5515],[5534,5552,5517,5545],[5533,5556,5515,5548],[5549,5585,5511,5522],[5534,5542,5507,5534],[5534,5571,5504,5569],[5563,5595,5561,5591],[5590,5597,5586,5592],[5588,5625,5586,5623],[5613,5638,5612,5626],[5629,5644,5628,5631],[5631,5692,5630,5690],[5686,5709,5630,5640],[5640,5708,5622,5666],[5684,5719,5666,5682],[5688,5721,5673,5718],[5716,5717,5634,5640],[5645,5665,5571,5595],[5605,5608,5543,5555],[5613,5617,5555,5564],[5608,5630,5589,5599],[5586,5586,5463,5473],[5483,5533,5432,5441],[5446,5529,5446,5500],[5497,5536,5481,5504],[5505,5525,5434,5473],[5559,5589,5453,5455],[5577,5600,5447,5481],[5466,5473,5334,5377],[5333,5346,5120,5217],[5249,5343,5222,5277],[5242,5359,5197,5227],[5208,5360,5183,5350],[5349,5385,5321,5371],[5364,5397,5348,5370],[5371,5463,5367,5461],[5456,5488,5439,5479],[5481,5587,5472,5569],[5569,5587,5537,5578],[5568,5633,5566,5631],[5630,5645,5608,5620],[5618,5651,5601,5643],[5643,5666,5583,5595],[5598,5663,5598,5654],[5652,5671,5622,5636],[5630,5651,5611,5646],[5611,5651,5577,5646],[5579,5665,5561,5611],[5618,5665,5594,5661],[5656,5668,5639,5665],[5666,5669,5517,5542],[5540,5542,5508,5525.5]];
const p5BlackBodies=[8,9,10,17,26,28,29,30,31,32,33,34,35,36,46,49,54,62,72,80,81,84,87,88,91,92,95,98,102,105,106,107,108,114,115];
const p5Upper=[[0,5223],[1,5237],[2.9,5259],[5.8,5273],[8,5281],[10,5298],[13,5335],[15.9,5349],[18.9,5376],[21,5391],[23.7,5403],[26.7,5426],[29.6,5436],[33.8,5453],[37.1,5468],[38.9,5466],[42.1,5439],[45.7,5423],[51.7,5380],[55.8,5354],[57.6,5352],[59.1,5357],[62.4,5391],[65.4,5411],[70.7,5446],[76.1,5495],[79,5513],[82,5533],[85,5551],[89.2,5574],[92.8,5612],[97,5642],[99.9,5672],[102,5684],[104.1,5711],[107.1,5731],[110.7,5755],[114,5761],[117.2,5788],[118.4,5789],[120.2,5782],[122,5757],[124,5731],[125.8,5715],[128.5,5713],[130.9,5713],[133.3,5724],[135.1,5724],[137.1,5720],[138,5726]];
const p5Lower=[[0,4985],[2.6,4994],[5.8,5039],[7.9,5058],[10,5065],[13,5068],[16.8,5097],[19.8,5109],[23.1,5144],[26.7,5171],[29,5183],[33.2,5191],[35.3,5182],[38,5157],[41,5125],[44.5,5071],[47.5,5026],[50.5,5001],[52.9,4995],[55.2,5004],[58.8,5047],[61.2,5084],[63,5119],[65.4,5154],[68.9,5207],[72.5,5237],[75.5,5245],[81.4,5274],[83.2,5282],[86.2,5315],[89.2,5335],[92.8,5380],[96.4,5420],[99.9,5458],[104.1,5478],[106.5,5474],[108,5475],[113,5429],[115.4,5397],[117.8,5329],[120.5,5245],[122.9,5201],[125.2,5178],[127.3,5175],[128.8,5184],[130.9,5207],[133.9,5234],[136,5265],[138,5323]];
const p5GrayUp=[[0,5198],[4,5245],[7.9,5267],[10.9,5289],[14.8,5309],[18.3,5340],[21,5369],[26.7,5409],[31.4,5420],[37.1,5439],[39.8,5423],[45.7,5385],[51.7,5349],[55.8,5323],[58.8,5329],[63.6,5374],[69.5,5411],[75.5,5449],[79,5472],[83.2,5522],[88.6,5548],[92.8,5589],[97,5624],[102,5681],[107,5720],[111.2,5726],[114.8,5742],[117.2,5745],[119,5735],[121.4,5696],[123.7,5672],[126,5660],[130.9,5671],[135.1,5677],[138,5684]];
const p5GrayLo=[[0,5010],[2.6,5018],[5.8,5058],[8.5,5079],[13,5094],[16.5,5119],[20.1,5125],[23.7,5168],[27.3,5201],[33.8,5216],[36.8,5207],[39.8,5179],[43.3,5125],[47.5,5071],[51.7,5036],[53.2,5034],[56.4,5049],[60.6,5098],[63.6,5146],[67.1,5190],[71.3,5245],[74.9,5267],[81.4,5284],[84.4,5306],[87.4,5346],[92.8,5414],[97,5455],[100.5,5484],[104.1,5500],[108.3,5498],[113.7,5460],[116,5414],[118.4,5357],[120.8,5295],[123.2,5256],[125.2,5231],[127.9,5230],[130.9,5256],[135.1,5292],[136.9,5323],[138,5360]];
const p5Sma=[[0,5106],[4,5141],[7.9,5168],[13.6,5204],[18.9,5234],[21.9,5265],[27.9,5306],[31.4,5317],[36.2,5323],[39.2,5315],[42.1,5278],[45.7,5240],[50.5,5198],[53.2,5184],[55.8,5184],[58.8,5207],[63,5267],[66.5,5309],[70.7,5343],[77.3,5383],[83.2,5409],[88.6,5460],[97,5536],[100.5,5565],[104.1,5595],[107.7,5608],[110,5608],[114.8,5595],[117.2,5565],[119.6,5518],[123.2,5466],[125.8,5446],[127.9,5446],[130.3,5455],[133,5475],[135.6,5490],[138,5522]];
const p5Stops=[["b",[[0,5050],[1,5050]]],["y",[[1,5050],[59.4,5050]]],["b",[[59.4,5050],[61.8,5063],[63.6,5098],[65.4,5146],[67.7,5190],[70.7,5229],[73.7,5259],[76.7,5298],[79.6,5335],[82,5375],[83.8,5406],[86.8,5432],[89.2,5455],[92.2,5469],[96.4,5513],[99.9,5548],[102.6,5583],[104.5,5586]]],["y",[[104.5,5585],[108,5585]]],["r",[[108,5585],[110.1,5580],[111.1,5579]]],["y",[[111.1,5578],[137.7,5578]]]];
const p5Hist=[1.57,3.03,3.9,3.44,3.23,4.32,4.15,3.87,4.58,3.12,2.58,2.86,2.54,1.57,3.94,3.76,2.97,2.86,3.61,4.75,6.3,4.73,3.55,3.72,3.68,4.41,4.54,3.33,1.63,2.86,1.53,.86,.86,1.35,0,-.2,-.54,-.9,-1.6,-1.83,-2.3,-2.88,-2.09,-1.5,-1.29,-1.66,-1.33,-1.38,-1.44,-1.66,-1.38,-.97,-.69,-.41,-.22,0,.7,1.18,1.46,1.94,1.9,1.85,1.68,1.4,1.2,1.25,1.03,1.08,1.4,1.4,1.25,.97,.82,.75,1.5,1.63,1.5,1.72,1.72,1.57,1.35,1.6,2.17,2.8,3.5,3.87,3.76,3.3,3.66,5.4,7.55,6.2,4.8,5.3,5.05,4.75,5.5,5.87,6,5.6,5.3,6.4,7.05,7.2,4.75,2.1,.86,1.35,1.42,-.58,-1.05,-.65,-.15,-.5,-.5,-.84,-2.2,-3.5,-2.52,-2.56,-2.09,-1.68,-1.76,-1.55,-1.18,-.47,0,.06,.06,.86,.86,.82,.75,.8,.35,.47,1.1,1.9,1.2];
const p5Signal=[[0,2.9],[.8,2.82],[4,2.82],[5.8,3.29],[7.9,3.83],[9.7,3.68],[12.1,3.46],[13,3.16],[14.2,3.31],[17.7,3.29],[18.9,3.55],[20.4,4.04],[23.7,4],[26.1,4.47],[27.3,4.32],[29,3.83],[31.7,2.32],[35,.6],[38,-1.33],[41.8,-2.9],[43,-3.05],[45.1,-3.05],[46.6,-2.73],[48.7,-2.47],[50.8,-2.13],[54.6,-.75],[57.6,.6],[60,1.57],[63.6,2.17],[67.7,2.13],[71.3,1.68],[73.1,1.29],[76.1,1.14],[78.5,1.35],[80.8,1.46],[82.6,2],[85.6,2.97],[88,3.51],[89.8,5.01],[91.3,5.55],[94,6.02],[95.8,6.09],[98.2,6.58],[100.5,6.41],[102.9,6.69],[104.1,6.41],[105.9,4.9],[108.3,2.86],[110.1,1.14],[113,-.69],[115.4,-2.19],[117.2,-3.27],[119,-3.91],[120.2,-4.09],[122,-3.7],[124,-2.73],[126.1,-1.94],[129.1,-.37],[132,.65],[135.1,1.4],[136.9,1.76],[138,1.83]];
const p5OscNavy=[[0,36],[1.1,32],[2.3,39],[4,40],[4.9,36],[6.1,36],[7.9,54],[10,45],[12.1,50],[13.9,48],[16,41],[18,40],[19.8,30],[21.3,40],[24,41],[27,56],[28.5,46],[30.2,27],[32,18],[34.4,-8],[36.2,-22],[38,-45],[41,-85],[43,-103],[44.8,-102],[46.9,-75],[49,-43],[51.7,-8],[53.2,15],[54.9,34],[57.6,78],[58.8,92],[61.2,93],[63.3,97],[64.8,91],[66.5,85],[68.9,50],[70.7,20],[72.5,8],[75.5,0],[77.3,4],[80.8,50],[83.8,76],[86.2,87],[88.9,79],[91.3,50],[93.1,33],[94.9,29],[97.9,33],[100,50],[103.2,68],[104.1,68],[106.2,50],[108,32],[110.7,-33],[113,-67],[113.9,-68],[114.9,-74],[116.9,-106],[120.2,-128],[121,-128],[122.1,-133],[123.2,-127],[125,-66],[126.8,4],[128.2,55],[130,104],[132.1,136],[133.9,143],[135.6,128],[138,88]];
const p5OscBrown=[[0,57],[5.8,40],[7.9,40],[13.6,47],[16.5,48],[20.1,42],[23.7,39],[26.1,40],[27.9,43],[30.8,42],[33.2,34],[36.2,18],[39.8,-17],[42.1,-43],[45.7,-75],[48.1,-84],[50.5,-75],[53.5,-43],[56.4,-1],[60,43],[63,76],[66,90],[67.7,91],[70.1,80],[73.1,53],[76.7,20],[79.3,11],[81.4,18],[85,43],[88,67],[91,73],[92.8,70],[96.4,53],[100.5,37],[103.5,46],[106.5,53],[108,53],[110.1,44],[112.4,20],[115.4,-20],[119,-73],[122,-103],[124.4,-113],[126.1,-106],[128.5,-66],[130.9,-10],[133.3,46],[135.4,90],[136.9,111],[138,119]];
const p5PriceTicks=[5750,5700,5650,5600,5550,5500,5450,5400,5350,5300,5250,5200,5150,5100,5050,5000];
const p5IndTicks=[6,4,2,0,-2,-4];
const p5IndMinor=[7,5,3,1,-1,-3];
const p5OscTicks=[140,100,60,20,-20,-60,-100,-140];
const p5OscMinor=[120,80,40,0,-40,-80,-120];
const p5TimeIdx=[6.85,26.9,48.9,71.9,92,115,137,158];
const p5TimeLabels=["Mar","Apr","May","Jun","Jul","Aug","Sep","Oct"];
const lastPrice=5525.5;

// ---------- drawing ----------
const svg=d3.select("#c");
const BG="#e6e6fa",GRAYTXT="#7d7d7d",FILL="#dcdce4",AX="#9a9aa2",SEP="#c9c9d3";
const STOP={y:"#ffff00",b:"#4169e1",r:"#dc143c"};
svg.append("rect").attr("width",2500).attr("height",1708).attr("fill","#2d2d2d");
const defs=svg.append("defs");
const g0=defs.append("linearGradient").attr("id","btn").attr("x1",0).attr("x2",0).attr("y1",0).attr("y2",1);
g0.append("stop").attr("offset",0).attr("stop-color","#d0d0d0");g0.append("stop").attr("offset",1).attr("stop-color","#989898");
let clipN=0;
function clip(x,y,w,h){const id="cl"+(clipN++);defs.append("clipPath").attr("id",id).append("rect").attr("x",x).attr("y",y).attr("width",w).attr("height",h);return "url(#"+id+")";}
const curve=d3.curveMonotoneX;
function knotLine(x,y){return d3.line().x(d=>x(d[0])).y(d=>y(d[1])).curve(curve);}
function band(g,x,y,up,lo){const l=knotLine(x,y);const a=l(up),b=l(lo.slice().reverse());g.append("path").attr("d",a+"L"+b.slice(1)+"Z").attr("fill",FILL);}
function pl(g,x,y,k,c,w){g.append("path").attr("d",knotLine(x,y)(k)).attr("fill","none").attr("stroke",c).attr("stroke-width",w);}
function stops(g,x,y,segs,w,dash){segs.forEach(s=>{g.append("path").attr("d",knotLine(x,y)(s[1])).attr("fill","none").attr("stroke",STOP[s[0]]).attr("stroke-width",w).attr("stroke-dasharray",dash);});}
function candles(g,x,y,rows,bw,blacks){
 const b=new Set(blacks||[]);
 g.selectAll("line.w").data(rows).join("line").attr("x1",(d,i)=>x(i)).attr("x2",(d,i)=>x(i)).attr("y1",d=>y(d[1])).attr("y2",d=>y(d[2])).attr("stroke","#000").attr("stroke-width",1.7);
 g.selectAll("rect.b").data(rows).join("rect").attr("x",(d,i)=>x(i)-bw/2).attr("width",bw)
  .attr("y",d=>Math.min(y(d[0]),y(d[3]))).attr("height",d=>Math.max(1.5,Math.abs(y(d[0])-y(d[3]))))
  .attr("fill",(d,i)=>b.has(i)?"#000":(d[3]>=d[0]?"#0b6e14":"#c02020")).attr("stroke","#000").attr("stroke-width",1.5);
}
function bars(g,x,y,hi,lo,cl){
 g.selectAll("line.h").data(hi).join("line").attr("x1",(d,i)=>x(i)).attr("x2",(d,i)=>x(i)).attr("y1",d=>y(d)).attr("y2",(d,i)=>y(lo[i])).attr("stroke","#000").attr("stroke-width",1.9);
 g.selectAll("line.c").data(cl).join("line").attr("x1",(d,i)=>x(i)).attr("x2",(d,i)=>x(i)+2.2).attr("y1",d=>y(d)).attr("y2",d=>y(d)).attr("stroke","#000").attr("stroke-width",1.3);
 g.selectAll("line.o").data(cl).join("line").attr("x1",(d,i)=>x(i)-2.2).attr("x2",(d,i)=>x(i)).attr("y1",(d,i)=>y(i?cl[i-1]:d)).attr("y2",(d,i)=>y(i?cl[i-1]:d)).attr("stroke","#000").attr("stroke-width",1.3);
}
function hist(g,x,y,vals,w){
 g.selectAll("rect.h").data(vals).join("rect").attr("x",(d,i)=>x(i)-w/2).attr("width",w).attr("y",d=>Math.min(y(0),y(d))).attr("height",d=>Math.abs(y(d)-y(0)))
  .attr("fill",d=>d>=2?"#000080":(d<=-2?"#8b0000":"#c0c0c0"));
}
function levels(g,x,y,rows,c){rows.forEach(r=>g.append("line").attr("x1",x(r[0])).attr("x2",x(r[1])).attr("y1",y(r[2])).attr("y2",y(r[2])).attr("stroke",c).attr("stroke-width",2.6).attr("stroke-dasharray","2.4 2.6"));}
function vArrow(g,xp,yTail,yHead,c){const d=yHead<yTail?1:-1;g.append("path").attr("d",`M${xp-2},${yTail}L${xp+2},${yTail}L${xp+2},${yHead+d*7}L${xp+5},${yHead+d*7}L${xp},${yHead}L${xp-5},${yHead+d*7}L${xp-2},${yHead+d*7}Z`).attr("fill",c);}
function annArrow(g,x0,y0,x1,y1,hl,hw){const a=Math.atan2(y1-y0,x1-x0),ux=Math.cos(a),uy=Math.sin(a);const bx=x1-ux*hl,by=y1-uy*hl;
 g.append("line").attr("x1",x0).attr("y1",y0).attr("x2",bx).attr("y2",by).attr("stroke","#b22222").attr("stroke-width",3);
 g.append("path").attr("d",`M${x1},${y1}L${bx-uy*hw},${by+ux*hw}L${bx+uy*hw},${by-ux*hw}Z`).attr("fill","#b22222");}
function tag(g,x0,x1,yc){g.append("path").attr("d",`M${x0},${yc}L${x0+6},${yc-11.5}L${x1},${yc-11.5}L${x1},${yc+11.5}L${x0+6},${yc+11.5}Z`).attr("fill","#ffff00").attr("stroke","#9a9a60").attr("stroke-width",1);
 g.append("text").attr("x",(x0+x1)/2+3).attr("y",yc+6).attr("text-anchor","middle").attr("font-size",17).attr("fill","#000").text("5525.50");}
function styleAxis(a,c){a.select(".domain").attr("stroke",AX).attr("stroke-width",1.5);a.selectAll(".tick line").attr("stroke",AX);a.selectAll(".tick text").attr("fill",GRAYTXT).attr("font-size",17).attr("font-family",'"Liberation Sans",Arial,sans-serif');}
function yAxis(g,ax,scale,ticks,fmt,range,minor){
 const a=g.append("g").attr("transform",`translate(${ax},0)`).call(d3.axisRight(scale).tickValues(ticks).tickFormat(fmt).tickSize(5).tickPadding(5));
 styleAxis(a);a.select(".domain").remove();
 if(range)g.append("line").attr("x1",ax).attr("x2",ax).attr("y1",range[0]).attr("y2",range[1]).attr("stroke",AX).attr("stroke-width",1.5);
 if(minor){const m=g.append("g").attr("transform",`translate(${ax},0)`).call(d3.axisRight(scale).tickValues(minor).tickFormat("").tickSize(4));m.select(".domain").remove();m.selectAll(".tick line").attr("stroke",AX);}
}
function xAxis(g,x,yp,idx,labels,x0,x1){
 const a=g.append("g").attr("transform",`translate(0,${yp})`).call(d3.axisBottom(x).tickValues(idx).tickFormat((d,i)=>labels[i]).tickSize(5).tickPadding(10));
 styleAxis(a);a.select(".domain").remove();
 g.append("line").attr("x1",x0).attr("x2",x1).attr("y1",yp).attr("y2",yp).attr("stroke",AX).attr("stroke-width",2);
}
function titles(g,x,y1,y2,a,b,fs1,fs2){g.append("text").attr("x",x).attr("y",y1).attr("font-size",fs1).attr("fill",GRAYTXT).text(a);g.append("text").attr("x",x).attr("y",y2).attr("font-size",fs2).attr("fill",GRAYTXT).text(b);}
function copyright(g,x,y){g.append("text").attr("x",x).attr("y",y).attr("font-size",17.5).attr("fill",GRAYTXT).text("\u00a9 2024 NinjaTrader, LLC");}
function plotBg(x,y,w,h){svg.append("rect").attr("x",x).attr("y",y).attr("width",w).attr("height",h).attr("fill",BG).attr("stroke","#8d8d95").attr("stroke-width",1);}
function sep(g,x0,x1,y){g.append("line").attr("x1",x0).attr("x2",x1).attr("y1",y).attr("y2",y).attr("stroke",SEP).attr("stroke-width",2);}
function grid(g,x0,x1,y){g.append("line").attr("x1",x0).attr("x2",x1).attr("y1",y).attr("y2",y).attr("stroke","#d5d5dc").attr("stroke-width",1.4);}

// toolbar
const IC="#d0d0d0";
function candleIcon(g,cx,cy,filled){[-9,0,9].forEach((o,i)=>{const t=[-7,-14,-10][i],b=[9,14,10][i];g.append("line").attr("x1",cx+o).attr("x2",cx+o).attr("y1",cy+t).attr("y2",cy+b).attr("stroke",IC).attr("stroke-width",1.5);
 if(filled)g.append("rect").attr("x",cx+o-2.5).attr("y",cy+t+4).attr("width",5).attr("height",b-t-8).attr("fill",IC);else{g.append("line").attr("x1",cx+o-3).attr("x2",cx+o).attr("y1",cy+t+5).attr("y2",cy+t+5).attr("stroke",IC).attr("stroke-width",1.5);g.append("line").attr("x1",cx+o).attr("x2",cx+o+3).attr("y1",cy+b-5).attr("y2",cy+b-5).attr("stroke",IC).attr("stroke-width",1.5);}});}
function pencil(g,cx,cy){g.append("path").attr("d",`M${cx-12},${cy-12}L${cx-7},${cy-15}L${cx+10},${cy+7}L${cx+13},${cy+15}L${cx+5},${cy+11}Z M${cx-9},${cy-9}L${cx+7},${cy+11}`).attr("fill","none").attr("stroke",IC).attr("stroke-width",1.8);}
function magnifier(g,cx,cy,c,plus){g.append("circle").attr("cx",cx-4).attr("cy",cy-5).attr("r",9).attr("fill","none").attr("stroke",c).attr("stroke-width",1.8);g.append("line").attr("x1",cx+3).attr("y1",cy+2).attr("x2",cx+12).attr("y2",cy+13).attr("stroke",c).attr("stroke-width",3);
 g.append("line").attr("x1",cx-9).attr("x2",cx+1).attr("y1",cy-5).attr("y2",cy-5).attr("stroke",c).attr("stroke-width",1.5);if(plus)g.append("line").attr("x1",cx-4).attr("x2",cx-4).attr("y1",cy-10).attr("y2",cy).attr("stroke",c).attr("stroke-width",1.5);}
function strokeIcon(g,d){g.append("path").attr("d",d).attr("fill","none").attr("stroke",IC).attr("stroke-width",1.7);}
function drawIcon(g,ic,cy){const k=ic[0],x=ic[1];
 if(k==="c")candleIcon(g,x,cy,true);if(k==="o")candleIcon(g,x,cy,false);if(k==="p")pencil(g,x,cy);if(k==="z")magnifier(g,x,cy,IC,true);if(k==="zo")magnifier(g,x,cy,"#666",false);
 if(k==="t")g.append("path").attr("d",`M${x-7},${cy-4}L${x+7},${cy-4}L${x},${cy+4}Z`).attr("fill",IC);
 if(k==="a")strokeIcon(g,`M${x-6},${cy-13}L${x-6},${cy+7}L${x-1},${cy+3}L${x+4},${cy+13}L${x+7},${cy+11}L${x+2},${cy+2}L${x+8},${cy+1}Z`);
 if(k==="d")strokeIcon(g,`M${x-12},${cy-13}L${x+7},${cy-13}L${x+12},${cy-8}L${x+12},${cy+13}L${x-12},${cy+13}Z M${x-8},${cy-6}L${x+6},${cy-6} M${x-8},${cy+2}L${x-1},${cy+2} M${x-8},${cy+8}L${x-1},${cy+8} M${x+7},${cy+7}L${x+11},${cy+11}`);
 if(k==="w")strokeIcon(g,`M${x-10},${cy-13}L${x+10},${cy-13}L${x+10},${cy+13} M${x-10},${cy-13}L${x-10},${cy-4}L${x-2},${cy-4}L${x-2},${cy-13} M${x+1},${cy-4}L${x+10},${cy-4}`);
 if(k==="b"){strokeIcon(g,`M${x-12},${cy-8}L${x-12},${cy-13}L${x-6},${cy-13} M${x+6},${cy-13}L${x+12},${cy-13}L${x+12},${cy-8} M${x-12},${cy+8}L${x-12},${cy+13}L${x+12},${cy+13}L${x+12},${cy+8}`);[-6,0,6].forEach((o,i)=>g.append("rect").attr("x",x+o-1.5).attr("y",cy-[4,9,1][i]).attr("width",3).attr("height",[14,19,11][i]).attr("fill",IC));}
 if(k==="n"){strokeIcon(g,`M${x-9},${cy+10}L${x-3},${cy-3}L${x+4},${cy+3}L${x+10},${cy-10}`);[[-9,10],[-3,-3],[4,3],[10,-10]].forEach(p=>g.append("circle").attr("cx",x+p[0]).attr("cy",cy+p[1]).attr("r",3).attr("fill","#1c1c1c").attr("stroke",IC).attr("stroke-width",1.5));}
 if(k==="x")strokeIcon(g,`M${x-11},${cy-10}L${x+11},${cy-10}L${x+11},${cy+13}L${x-11},${cy+13}Z M${x-6},${cy-13}L${x+6},${cy-13}L${x+6},${cy-10} M${x-6},${cy+8}L${x+6},${cy-4} M${x-7},${cy-6}L${x-3},${cy-2} M${x+2},${cy+4}L${x+6},${cy+8}`);
 if(k==="l")[-10,0,10].forEach(o=>{g.append("rect").attr("x",x-13).attr("y",cy+o-2.5).attr("width",5).attr("height",5).attr("fill","none").attr("stroke",IC).attr("stroke-width",1.4);g.append("line").attr("x1",x-4).attr("x2",x+13).attr("y1",cy+o).attr("y2",cy+o).attr("stroke",IC).attr("stroke-width",1.5);});
}
function toolbar(o){
 const g=svg.append("g"),y=o.y,dark=o.dark;
 g.append("rect").attr("x",o.x0).attr("y",y-2).attr("width",o.x1-o.x0).attr("height",41).attr("fill",dark?"#1c1c1c":"#474747");
 g.append("rect").attr("x",o.chart[0]).attr("y",y).attr("width",o.chart[1]-o.chart[0]).attr("height",36).attr("fill","#e03c00");
 g.append("text").attr("x",(o.chart[0]+o.chart[1])/2).attr("y",y+26).attr("text-anchor","middle").attr("font-size",24).attr("fill","#fff").text("Chart");
 [[o.d1,"ES 09-24"],[o.d2,o.period]].forEach(d=>{
  g.append("rect").attr("x",d[0][0]).attr("y",y+3).attr("width",d[0][1]-d[0][0]).attr("height",29).attr("fill",dark?"#3a3a3a":"#383838");
  g.append("text").attr("x",d[0][0]+10).attr("y",y+24).attr("font-size",18).attr("fill","#bdbdbd").text(d[1]);
  const cx=d[0][1]-18;g.append("path").attr("d",`M${cx-6},${y+13}L${cx},${y+22}L${cx+6},${y+13}`).attr("fill","none").attr("stroke",IC).attr("stroke-width",2.6);
 });
 const cy=y+17;
 (o.icons||[]).forEach(ic=>drawIcon(g,ic,cy));
 o.btn.forEach((b,i)=>{const w=b[1]-b[0];const s=g.append("rect").attr("x",b[0]).attr("y",y+5).attr("width",w).attr("height",25);
  if(i===0)s.attr("fill","url(#btn)");else if(i===1)s.attr("fill","#00e600");else if(i===4&&dark)s.attr("fill","#a01e1e");else s.attr("fill",dark?"#2c2c2c":"#444").attr("stroke","#c8c8c8").attr("stroke-width",1.4);
  if(i===2)g.append("rect").attr("x",b[0]+5).attr("y",y+21).attr("width",w-10).attr("height",3).attr("fill","#e8e8e8");});
}
toolbar({x0:0,x1:808,y:2,chart:[0,79],d1:[108,312],d2:[322,526],period:"240 Minute",icons:[["c",560],["p",603],["t",641]],btn:[[660,686],[691,716],[723,748],[754,778],[784,809]]});
toolbar({x0:812,x1:1607,y:2,chart:[815,895],d1:[924,1128],d2:[1138,1343],period:"60 Minute",icons:[["o",1375],["t",1438]],btn:[[1457,1482],[1489,1514],[1519,1545],[1550,1575],[1581,1607]]});
toolbar({x0:1610,x1:2500,y:2,chart:[1612,1691],d1:[1721,1925],d2:[1935,2139],period:"15 Minute",icons:[["o",2171],["p",2217],["z",2263],["t",2336]],btn:[[2355,2381],[2385,2411],[2416,2443],[2448,2474],[2478,2504]]});
toolbar({x0:0,x1:808,y:847,chart:[0,79],d1:[108,312],d2:[322,526],period:"Weekly",icons:[["c",560],["t",641]],btn:[[660,686],[691,716],[723,748],[754,778],[784,809]]});
toolbar({x0:815,x1:2500,y:529,dark:true,chart:[815,893],d1:[922,1127],d2:[1137,1341],period:"Daily",icons:[["c",1374],["p",1419],["z",1465],["zo",1511],["a",1556],["d",1602],["w",1649],["b",1693],["n",1739],["x",1785],["l",1832]],btn:[[2351,2376],[2382,2408],[2413,2439],[2444,2470],[2475,2504]]});

const TITLE1=18.7,TITLE2=18,DASH="8.5 5",CW=3.5;
// ---- panel 1
(function(){
 plotBg(10,51,793,782);
 const g=svg.append("g"),x=d3.scaleLinear().domain([0,95]).range([21.18,680.8]);
 const y=d3.scaleLog().domain([5700,5200]).range([66.2,570.2]),v=d3.scaleLinear().domain([0,2]).range([706.7,669.2]);
 p1GridIdx.forEach(i=>g.append("line").attr("x1",x(i)).attr("x2",x(i)).attr("y1",52).attr("y2",800).attr("stroke","#d8d8e0").attr("stroke-width",1));
 const top=g.append("g").attr("clip-path",clip(10,51,716,534));
 band(top,x,y,p1GrayUp,p1GrayLo);
 titles(top,26,113,138,"Remek!  Premium  ES SEP24  240 Minute  2024-09-03 9:52 PM","2.5 ATR = 3475 USD",TITLE1,TITLE2);
 pl(top,x,y,p1Sma,"#a9a9a9",1);pl(top,x,y,p1Upper,"#1e90ff",1.8);pl(top,x,y,p1Lower,"#1e90ff",1.8);
 stops(top,x,y,p1Stops,4.3,DASH);
 candles(top.append("g"),x,y,p1Candles,CW);
 vArrow(top,x(42),y(5541),y(5557.4),"#0000ff");
 const c=svg.append("g");
 c.append("rect").attr("x",x(28)).attr("width",x(84)-x(28)).attr("y",y(5666)).attr("height",y(5562)-y(5666)).attr("fill","rgb(238,232,120)").attr("fill-opacity",.42).attr("stroke","#b22222").attr("stroke-width",2.5);
 c.append("ellipse").attr("cx",x(82)).attr("cy",y(5662)).attr("rx",21).attr("ry",20.5).attr("fill","rgb(238,232,120)").attr("fill-opacity",.3).attr("stroke","#b22222").attr("stroke-width",2.5);
 annArrow(c,x(82.1),y(5657),x(85.5),y(5694),15,9);
 c.append("rect").attr("x",13.4).attr("y",146.6).attr("width",157).attr("height",24.4).attr("fill","#ee82ee").attr("stroke","#ff00ff").attr("stroke-width",3);
 c.append("text").attr("x",26).attr("y",165).attr("font-size",17.3).attr("fill","#6f6f6f").text("Bearish Breakout");
 sep(c,10,803,585);
 [2,-2].forEach(t=>grid(c,10,726,v(t)));grid(c,10,726,v(0));
 const h=c.append("g");hist(h,x,v,p1Hist,3.6);pl(h,x,v,p1Signal,"#000080",1.8);
 copyright(c,14.5,790);
 yAxis(c,726,y,p1PriceTicks,d3.format(".2f"),[51,801]);
 yAxis(c,726,v,p1IndTicks,d3.format("d"),null,p1IndMinor);
 xAxis(c,x,801,p1TimeIdx,p1TimeLabels,10,726);
 tag(c,720.5,803,y(lastPrice));
})();

// ---- panel 2
(function(){
 plotBg(826,51.6,775,469);
 const g=svg.append("g"),x=d3.scaleLinear().domain([0,116]).range([837.55,1478.4]),y=d3.scaleLog().domain([5680,5500]).range([65.4,481.4]);
 const top=g.append("g").attr("clip-path",clip(826,52,696,436));
 band(top,x,y,p2GrayUp,p2GrayLo);
 titles(top,840.6,113.6,137,"Remek!  ES SEP24  60 Minute  2024-09-03 9:52 PM","2.5 ATR = 1850 USD",TITLE1,TITLE2);
 pl(top,x,y,p2Sma,"#a9a9a9",1);pl(top,x,y,p2Upper,"#1e90ff",1.8);pl(top,x,y,p2Lower,"#1e90ff",1.8);
 stops(top,x,y,p2Stops,4.3,DASH);
 levels(top,x,y,p2Teal,"#008b80");levels(top,x,y,p2DarkRed,"#b30000");levels(top,x,y,p2Salmon,"#fa8072");
 p2Sessions.forEach(i=>top.append("line").attr("x1",x(i)).attr("x2",x(i)).attr("y1",52).attr("y2",488).attr("stroke","#555").attr("stroke-width",1.3).attr("stroke-dasharray","6 3"));
 bars(top.append("g"),x,y,p2Highs,p2Lows,p2Closes);
 vArrow(top,x(82.2),y(5621),y(5628),"#0000ff");vArrow(top,x(98),y(5624),y(5631),"#0000ff");
 copyright(top,830,479);
 yAxis(g,1522,y,p2PriceTicks,d3.format(".2f"),[52,488],[5670,5650,5630,5610,5590,5570,5550,5530,5510]);
 xAxis(g,x,488,p2TimeIdx,p2TimeLabels,826,1522);
 tag(g,1517,1599,y(lastPrice));
})();

// ---- panel 3
(function(){
 plotBg(1623.6,51.6,880,469);
 const g=svg.append("g"),x=d3.scaleLinear().domain([0,134]).range([1635.5,2377.3]),y=d3.scaleLog().domain([5660,5500]).range([102.6,481.4]);
 const top=g.append("g").attr("clip-path",clip(1624,52,796,436));
 band(top,x,y,p3GrayUp,p3GrayLo);
 titles(top,1637,113.6,137,"Remek!  ES SEP24  15 Minute  2024-09-03 9:52 PM","2.5 ATR = 1162 USD",TITLE1,TITLE2);
 pl(top,x,y,p3Sma,"#a9a9a9",1);pl(top,x,y,p3Upper,"#1e90ff",1.8);pl(top,x,y,p3Lower,"#1e90ff",1.8);
 stops(top,x,y,p3Stops,4.3,DASH);
 levels(top,x,y,p3Teal,"#008b80");levels(top,x,y,p3DarkRed,"#b30000");levels(top,x,y,p3Salmon,"#fa8072");
 p3Sessions.forEach(i=>top.append("line").attr("x1",x(i)).attr("x2",x(i)).attr("y1",52).attr("y2",488).attr("stroke","#555").attr("stroke-width",1.3).attr("stroke-dasharray","6 3"));
 bars(top.append("g"),x,y,p3Highs,p3Lows,p3Closes);
 vArrow(top,x(85.8),y(5667.8),y(5660.8),"#b22222");vArrow(top,x(122.8),y(5568.8),y(5561.5),"#b22222");
 copyright(top,1627,479);
 yAxis(g,2420,y,p3PriceTicks,d3.format(".2f"),[52,488],[5670,5650,5630,5610,5590,5570,5550,5530,5510]);
 xAxis(g,x,488,p3TimeIdx,p3TimeLabels,1624,2420);
 tag(g,2415,2497,y(lastPrice));
})();

// ---- panel 4
(function(){
 plotBg(10,894.5,792,808.5);
 const g=svg.append("g"),x=d3.scaleLinear().domain([0,94]).range([26.3,679.2]),y=d3.scaleLog().domain([5700,3800]).range([927.5,1409.3]),v=d3.scaleLinear().domain([0,1]).range([1599.3,1571.8]);
 const top=g.append("g").attr("clip-path",clip(10,895,714,553));
 band(top,x,y,p4GrayUp,p4GrayLo);
 titles(top,25,957,981,"Remek!  Premium  ES SEP24  Weekly  2024-09-03 9:52 PM","2.5 ATR = 17675 USD",TITLE1,TITLE2);
 pl(top,x,y,p4Sma,"#a9a9a9",1);pl(top,x,y,p4Upper,"#1e90ff",1.8);pl(top,x,y,p4Lower,"#1e90ff",1.8);
 stops(top,x,y,p4Stops,4.3,DASH);
 candles(top.append("g"),x,y,p4Candles,CW);
 vArrow(top,x(3.9),y(4789),y(4717),"#b22222");vArrow(top,x(14.9),y(4650),y(4585),"#b22222");
 vArrow(top,x(78),y(4974),y(5048),"#0000ff");vArrow(top,x(92),y(5239),y(5316),"#0000ff");
 top.append("ellipse").attr("cx",x(92.3)).attr("cy",y(5364)).attr("rx",17.5).attr("ry",21.5).attr("fill","rgb(238,232,120)").attr("fill-opacity",.42).attr("stroke","#b22222").attr("stroke-width",2.5);
 sep(g,10,802,1448);
 [2,0,-2].forEach(t=>grid(g,10,724,v(t)));
 const h=g.append("g");hist(h,x,v,p4Hist,3.6);pl(h,x,v,p4Signal,"#000080",1.8);
 copyright(g,14.5,1660);
 yAxis(g,724,y,p4PriceTicks,d3.format(".2f"),[895,1671],[5600,5400,5200,5000,3700]);
 yAxis(g,724,v,p4IndTicks,d3.format("d"),null);
 xAxis(g,x,1671,p4TimeIdx,p4TimeLabels,10,724);
 tag(g,719,801,y(lastPrice));
})();

// ---- daily panel
(function(){
 plotBg(825,577,1670,1128);
 const g=svg.append("g"),x=d3.scaleLinear().domain([0,139]).range([837.3,2103.1]),y=d3.scaleLog().domain([5750,5000]).range([623.1,1213.3]);
 const v=d3.scaleLinear().domain([0,2]).range([1374.3,1343.3]),o=d3.scaleLinear().domain([0,140]).range([1562.67,1462.35]);
 const top=g.append("g").attr("clip-path",clip(825,578,1592,668));
 band(top,x,y,p5GrayUp,p5GrayLo);
 titles(top,840.6,647,684,"Remek!  ES SEP24  Daily  2024-09-03 9:52 PM","2.5 ATR = 9925 USD",24.7,21.3);
 pl(top,x,y,p5Sma,"#a9a9a9",1);pl(top,x,y,p5Upper,"#1e90ff",1.8);pl(top,x,y,p5Lower,"#1e90ff",1.8);
 stops(top,x,y,p5Stops,4,DASH);
 candles(top.append("g"),x,y,p5Candles,CW,p5BlackBodies);
 vArrow(top,x(11),y(5127),y(5148),"#0000ff");vArrow(top,x(18),y(5157),y(5178),"#0000ff");
 vArrow(top,x(93),y(5409),y(5432),"#0000ff");
 vArrow(top,x(116),y(5572),y(5549),"#b22222");
 // annotations
 const yel="rgb(238,232,120)";
 top.append("rect").attr("x",x(99.9)).attr("width",x(157.1)-x(99.9)).attr("y",y(5734)).attr("height",y(5711)-y(5734)).attr("fill",yel).attr("fill-opacity",.42).attr("stroke","#b22222").attr("stroke-width",3);
 top.append("path").attr("d",d3.line()([[x(124),y(5595)],[x(130),y(5692)],[x(137.9),y(5614)],[x(131.9),y(5518)]])+"Z").attr("fill",yel).attr("fill-opacity",.42);
 top.append("line").attr("x1",x(124)).attr("y1",y(5595)).attr("x2",x(131.9)).attr("y2",y(5518)).attr("stroke","#b22222").attr("stroke-width",3);
 top.append("line").attr("x1",x(130)).attr("y1",y(5692)).attr("x2",x(137.9)).attr("y2",y(5614)).attr("stroke","#b22222").attr("stroke-width",3);
 top.append("ellipse").attr("cx",x(140.5)).attr("cy",y(5601)).attr("rx",31.4).attr("ry",34).attr("fill",yel).attr("fill-opacity",.42).attr("stroke","#b22222").attr("stroke-width",3);
 annArrow(top,x(141.1),y(5608),x(146.4),y(5696),22,10);
 g.append("path").attr("d","M2395,611L2367,611M2379,599L2366,611L2379,623").attr("fill","none").attr("stroke","#6e6e6e").attr("stroke-width",3.2);
 sep(g,825,2495,1246);sep(g,825,2495,1449);
 [2,0,-2].forEach(t=>grid(g,825,2417,v(t)));grid(g,825,2417,o(0)-1.5);
 const h=g.append("g");hist(h,x,v,p5Hist,4);pl(h,x,v,p5Signal,"#000080",1.8);
 pl(g,x,o,p5OscBrown,"#8b4513",1.8);pl(g,x,o,p5OscNavy,"#000080",1.8);
 copyright(g,828.7,1661.7);
 yAxis(g,2417,y,p5PriceTicks,d3.format(".2f"),[578,1673],[5775]);
 yAxis(g,2417,v,p5IndTicks,d3.format("d"),null,p5IndMinor);
 yAxis(g,2417,o,p5OscTicks,d3.format("d"),null,p5OscMinor);
 xAxis(g,x,1672.7,p5TimeIdx,p5TimeLabels,825,2417);
 tag(g,2411.5,2494,y(lastPrice));
})();
</script></body></html>
